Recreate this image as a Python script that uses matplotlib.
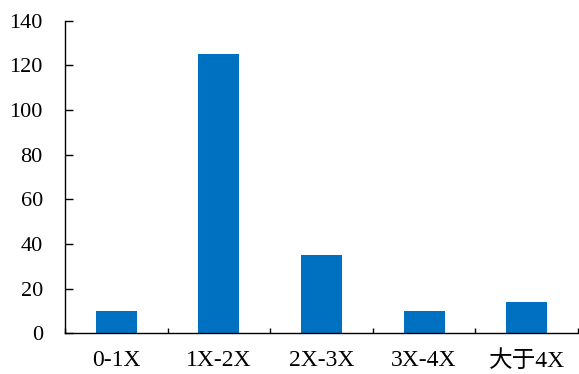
import matplotlib.pyplot as plt
import numpy as np

categories = ['0-1X', '1X-2X', '2X-3X', '3X-4X', '大于4X']
counts = [10, 125, 35, 10, 14]
y_ticks = [0, 20, 40, 60, 80, 100, 120, 140]

plt.rcParams['font.family'] = ['Liberation Serif', 'Noto Sans CJK SC']

fig = plt.figure(figsize=(5.79, 3.74), dpi=100)
ax = fig.add_axes([0.1123, 0.1088, 0.886, 0.8359])

x = np.arange(len(categories))
ax.bar(x, counts, width=0.4, color='#0070C0')

ax.set_xlim(-0.5, len(categories) - 0.5)
ax.set_ylim(0, 140)
ax.set_yticks(y_ticks)
ax.set_xticks(x)
ax.set_xticklabels(categories)
ax.set_xticks(np.arange(len(categories) + 1) - 0.5, minor=True)

ax.spines['top'].set_visible(False)
ax.spines['right'].set_visible(False)
for s in ('left', 'bottom'):
    ax.spines[s].set_linewidth(1.0)

ax.tick_params(axis='y', direction='in', length=5.5, width=1, pad=16, labelsize=16)
ax.tick_params(axis='x', which='major', length=0, pad=12, labelsize=17)
ax.tick_params(axis='x', which='minor', direction='in', length=3.7, width=1)

fig.savefig('out.png', dpi=100)
